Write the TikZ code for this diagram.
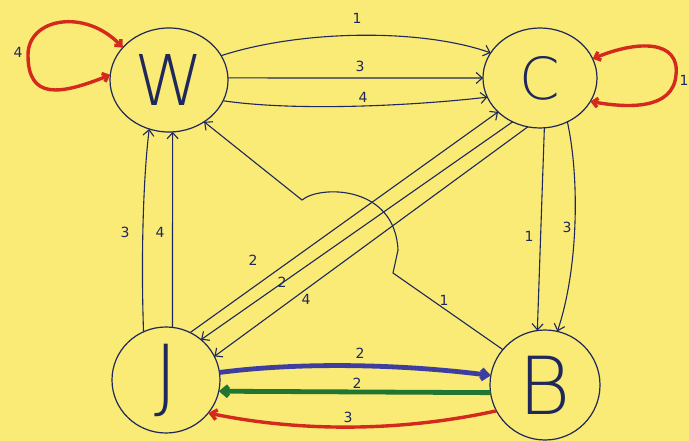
\documentclass[tikz,border=0pt]{standalone}
\usepackage{fontspec}
\setsansfont{DejaVu Sans}
\newfontfamily\letterfont{DejaVu Sans ExtraLight}
\usetikzlibrary{shapes.geometric,arrows.meta}
\definecolor{paper}{RGB}{250,234,118}
\definecolor{ink}{RGB}{30,40,90}
\definecolor{redink}{RGB}{212,42,30}
\definecolor{blueink}{RGB}{62,62,160}
\definecolor{greenink}{RGB}{32,118,48}
\begin{document}
\begin{tikzpicture}[x=1pt,y=-1pt,
  state/.style={ellipse,draw=ink,line width=1.2pt,inner sep=0pt,outer sep=0pt,text=ink,
    font=\letterfont\fontsize{70}{70}\selectfont},
  edge/.style={draw=ink,line width=1.1pt,-{Straight Barb[length=6pt,width=11pt]}},
  loopedge/.style={draw=redink,line width=3.4pt,{Straight Barb[length=5pt,width=9pt]}-{Straight Barb[length=5pt,width=9pt]}},
  thickedge/.style={line width=4.8pt,-{Straight Barb[length=6pt,width=10pt]}},
  lbl/.style={text=ink,font=\sffamily\fontsize{14}{14}\selectfont,inner sep=0pt}]
\fill[paper] (0,0) rectangle (689,441);
\useasboundingbox (0,0) rectangle (689,441);

% states
\node[state,minimum width=118pt,minimum height=104pt] (W) at (169,80) {W};
\node[state,minimum width=114pt,minimum height=100pt,font=\letterfont\fontsize{58}{58}\selectfont] (C) at (540,78) {C};
\node[state,minimum width=108pt,minimum height=106pt,font=\letterfont\fontsize{80}{80}\selectfont] (J) at (166,380) {J};
\node[state,minimum width=110pt,minimum height=110pt,font=\letterfont\fontsize{80}{80}\selectfont] (B) at (545,385) {B};

% self loops
\draw[loopedge] (W.145) .. controls (85,8) and (28,18) .. (28,55) .. controls (28,100) and (60,95) .. (W.175);
\draw[loopedge] (C.20) .. controls (638,40) and (680,40) .. (676,75) .. controls (673,110) and (628,108) .. (C.-25);
\node[lbl] (lw) at (18,52) {4};
\node[lbl] (lc) at (684,80) {1};

% W -> C
\draw[edge] (W.25) .. controls (300,30) and (420,28) .. (C.153);
\draw[edge] (W.2) -- (C.180);
\draw[edge] (W.-21) .. controls (300,112) and (420,105) .. (C.200);
\node[lbl] (l1) at (357,18) {1};
\node[lbl] (l2) at (360,66) {3};
\node[lbl] (l3) at (363,97) {4};

% J <-> C diagonals
\draw[edge] (J.63) -- (C.219);
\draw[edge] (C.238) -- (J.49);
\draw[edge] (C.256) -- (J.26);
\node[lbl] (l4) at (253,260) {2};
\node[lbl] (l5) at (282,282) {2};
\node[lbl] (l6) at (306,299) {4};

% J -> W
\draw[edge] (J.115) .. controls (141,260) and (143,180) .. (W.248);
\draw[edge] (J.83) -- (W.274);
\node[lbl] (l7) at (125,232) {3};
\node[lbl] (l8) at (160,232) {4};

% C -> B
\draw[edge] (C.275) -- (B.98);
\draw[edge] (C.302) .. controls (580,180) and (578,270) .. (B.77);
\node[lbl] (l9) at (529,236) {1};
\node[lbl] (l10) at (567,227) {3};

% B -> W with hop
\coordinate (h1) at (393,273);
\coordinate (h2) at (398,250);
\coordinate (h3) at (302,200);
\draw[edge] (B.140) -- (h1) -- (h2) .. controls (395,185) and (320,185) .. (h3) -- (W.310);
\node[lbl] (l11) at (444,300) {1};

% J <-> B
\draw[thickedge,draw=blueink] (J.8) .. controls (300,362) and (400,364) .. (B.170);
\draw[thickedge,draw=greenink] (B.188) -- (J.-12);
\draw[thickedge,draw=redink,line width=3.4pt] (B.208) .. controls (400,432) and (300,432) .. (J.-38);
\node[lbl] (l12) at (360,353) {2};
\node[lbl] (l13) at (357,383) {2};
\node[lbl] (l14) at (348,417) {3};
\end{tikzpicture}
\end{document}
